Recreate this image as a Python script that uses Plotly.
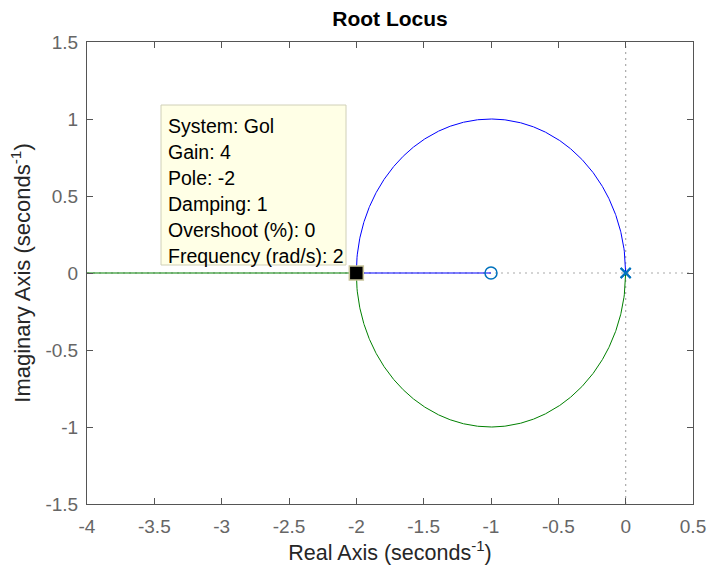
import numpy as np
import plotly.graph_objects as go

# ---- data -------------------------------------------------------------
system_name = "Gol"
num = [1, 1]          # numerator of open-loop transfer function (s+1)
den = [1, 0, 0]       # denominator s^2
zeros = [-1.0]
poles = [0.0, 0.0]
gain_samples = list(np.linspace(0, 4, 801)) + list(np.linspace(4, 80, 800)[1:])

tip_gain = 4
tip_pole = -2
tip_damping = 1
tip_overshoot = 0
tip_freq = 2

x_ticks = [-4, -3.5, -3, -2.5, -2, -1.5, -1, -0.5, 0, 0.5]
x_ticklabels = ["-4", "-3.5", "-3", "-2.5", "-2", "-1.5", "-1", "-0.5", "0", "0.5"]
y_ticks = [-1.5, -1, -0.5, 0, 0.5, 1, 1.5]
y_ticklabels = ["-1.5", "-1", "-0.5", "0", "0.5", "1", "1.5"]

# ---- root locus branches ----------------------------------------------
b1x, b1y, b2x, b2y = [], [], [], []
for k in gain_samples:
    poly = np.polyadd(den, k * np.array(num, dtype=float))
    r = np.roots(poly)
    if np.max(np.abs(r.imag)) > 1e-9:
        up = r[np.argmax(r.imag)]
        lo = r[np.argmin(r.imag)]
    else:
        rr = np.sort(r.real)
        up = complex(rr[-1], 0)
        lo = complex(rr[0], 0)
    b1x.append(up.real); b1y.append(up.imag)
    b2x.append(lo.real); b2y.append(lo.imag)
# branch 1 terminates at the finite zero
b1x.append(zeros[0]); b1y.append(0.0)

FONT = "Liberation Sans, Arial, sans-serif"
TICKC = "#666666"
FRAME = "#555555"

fig = go.Figure()
# dotted axes
fig.add_trace(go.Scatter(x=[-4, 0.5], y=[0, 0], mode="lines",
                         line=dict(color="#aaaaaa", width=1.2, dash="2px,4px"), hoverinfo="skip"))
fig.add_trace(go.Scatter(x=[0, 0], y=[-1.5, 1.5], mode="lines",
                         line=dict(color="#aaaaaa", width=1.2, dash="2px,4px"), hoverinfo="skip"))
fig.add_trace(go.Scatter(x=b2x, y=b2y, mode="lines", line=dict(color="#008000", width=1)))
fig.add_trace(go.Scatter(x=b1x, y=b1y, mode="lines", line=dict(color="#0000ff", width=1)))
fig.add_trace(go.Scatter(x=zeros, y=[0] * len(zeros), mode="markers",
                         marker=dict(symbol="circle-open", size=12, color="#0072bd",
                                     line=dict(width=1.5, color="#0072bd"))))
fig.add_trace(go.Scatter(x=poles, y=[0] * len(poles), mode="markers",
                         marker=dict(symbol="x-thin-open", size=10, color="#0072bd",
                                     line=dict(width=2, color="#0072bd"))))
fig.add_trace(go.Scatter(x=[tip_pole], y=[0], mode="markers",
                         marker=dict(symbol="square", size=14, color="black",
                                     line=dict(width=1.5, color="#c8c39a"))))

# data tip
tip_lines = [f"System: {system_name}", f"Gain: {tip_gain}", f"Pole: {tip_pole}",
             f"Damping: {tip_damping}", f"Overshoot (%): {tip_overshoot}",
             f"Frequency (rad/s): {tip_freq}"]
L, T, W, H = 87, 42, 606, 462
def px(x): return (x - L) / W
def py(y): return (T + H - y) / H
fig.add_shape(type="rect", xref="paper", yref="paper",
              x0=px(161), x1=px(346), y0=py(265), y1=py(105),
              fillcolor="#ffffe6", line=dict(color="#d0d0b8", width=1))
for i, t in enumerate(tip_lines):
    fig.add_annotation(xref="paper", yref="paper", x=px(166), y=py(126 + 26 * i),
                       xanchor="left", yanchor="middle", text=t, showarrow=False,
                       font=dict(family=FONT, size=19.5, color="black"))

fig.update_layout(
    width=708, height=573,
    margin=dict(l=L, r=708 - L - W, t=T, b=573 - T - H, autoexpand=False),
    paper_bgcolor="white", plot_bgcolor="white",
    showlegend=False, hovermode=False,
    title=dict(text="<b>Root Locus</b>", x=(L + W / 2) / 708, xanchor="center",
               y=1 - 19 / 573, yanchor="middle",
               font=dict(family=FONT, size=21, color="black")),
)
axis_common = dict(showgrid=False, zeroline=False, showline=True, linecolor=FRAME,
                   linewidth=1, mirror="allticks", ticks="inside", ticklen=6,
                   tickcolor=FRAME, tickfont=dict(family=FONT, size=19, color=TICKC),
                   automargin=False)
fig.update_xaxes(range=[-4, 0.5], tickvals=x_ticks, ticktext=x_ticklabels,
                 ticklabelstandoff=5,
                 title=dict(text="Real Axis (seconds<sup>-1</sup>)",
                            font=dict(family=FONT, size=21.5, color="#262626"), standoff=7),
                 **axis_common)
fig.update_yaxes(range=[-1.5, 1.5], tickvals=y_ticks, ticktext=y_ticklabels,
                 ticklabelstandoff=4,
                 title=dict(text="Imaginary Axis (seconds<sup>-1</sup>)",
                            font=dict(family=FONT, size=22, color="#262626"), standoff=8),
                 **axis_common)

fig.write_html("out.html")
